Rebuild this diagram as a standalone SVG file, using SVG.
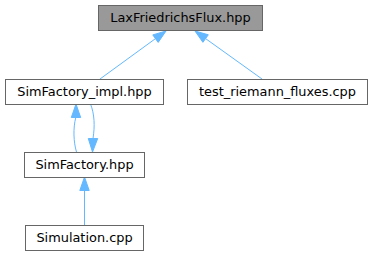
<svg xmlns="http://www.w3.org/2000/svg" width="373" height="256" viewBox="0 0 373 256">
<style>
.box{fill:#ffffff;stroke:#666666;stroke-width:1}
.root{fill:#999999;stroke:#666666;stroke-width:1}
.lbl{font-family:"DejaVu Sans",sans-serif;font-size:12.9px;fill:#000000;text-anchor:middle}
.edge{fill:none;stroke:#63b8ff;stroke-width:1}
.head{fill:#63b8ff;stroke:#63b8ff;stroke-width:1}
</style>
<rect width="373" height="256" fill="#ffffff"/>
<g id="edges">
<path class="edge" d="M100,79 L155.5,38.6"/>
<polygon class="head" points="166,31 158.2,42.4 152.8,34.9"/>
<path class="edge" d="M262,79 L205.6,38.6"/>
<polygon class="head" points="195,31 208.3,34.8 202.9,42.3"/>
<path class="edge" d="M76.5,152 C73.5,142 73,128 75.8,117.5"/>
<polygon class="head" points="76,104 80.7,117.5 71.3,117.5"/>
<path class="edge" d="M90.5,104 C94.5,114 95,126 93,138.5"/>
<polygon class="head" points="92.5,152 88.3,138.5 97.7,138.5"/>
<path class="edge" d="M84.5,225 L84.5,190.5"/>
<polygon class="head" points="84.5,177 89.2,190.5 79.8,190.5"/>
</g>
<g id="node1">
<rect class="root" x="98.5" y="5.5" width="164" height="25"/>
<text class="lbl" x="180.5" y="22.3">LaxFriedrichsFlux.hpp</text>
</g>
<g id="node2">
<rect class="box" x="5.5" y="79.5" width="158" height="25"/>
<text class="lbl" x="84.5" y="96.3">SimFactory_impl.hpp</text>
</g>
<g id="node3">
<rect class="box" x="187.5" y="79.5" width="180" height="25"/>
<text class="lbl" x="277.5" y="96.3">test_riemann_fluxes.cpp</text>
</g>
<g id="node4">
<rect class="box" x="24.5" y="152.5" width="120" height="25"/>
<text class="lbl" x="84.5" y="169.3">SimFactory.hpp</text>
</g>
<g id="node5">
<rect class="box" x="25.5" y="225.5" width="118" height="25"/>
<text class="lbl" x="84.5" y="242.3">Simulation.cpp</text>
</g>
</svg>
